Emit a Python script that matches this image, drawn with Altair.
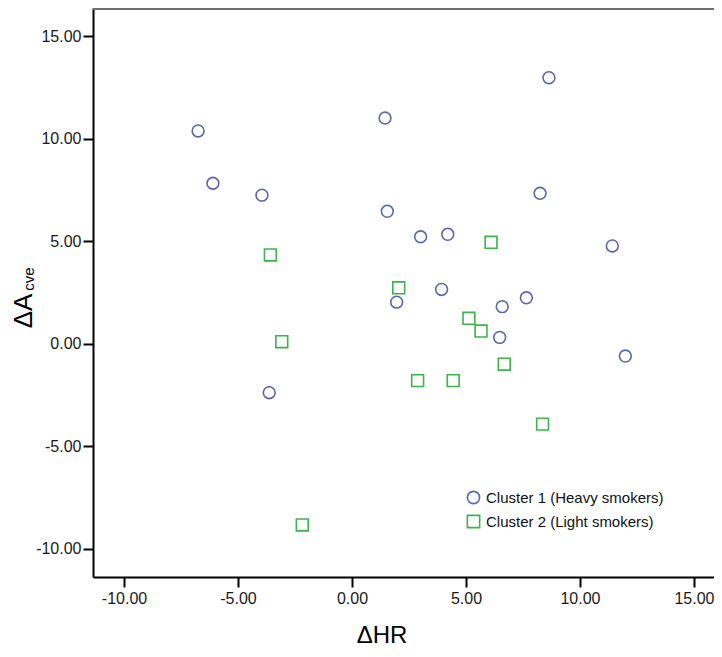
import altair as alt
import pandas as pd

# Cluster 1 (Heavy smokers)
c1_x = [-6.75, -6.10, -3.95, 1.45, 8.64, 1.55, 3.01, 4.20, 8.25, 11.42, 3.93, 1.96, 6.59, 7.65, 6.48, 11.99, -3.63]
c1_y = [10.37, 7.82, 7.24, 11.00, 12.97, 6.45, 5.21, 5.33, 7.33, 4.76, 2.64, 2.02, 1.80, 2.23, 0.30, -0.61, -2.40]
# Cluster 2 (Light smokers)
c2_x = [-3.58, 6.10, 2.05, 5.13, 5.66, -3.08, 2.88, 4.44, 6.68, 8.36, -2.18]
c2_y = [4.32, 4.94, 2.72, 1.23, 0.61, 0.09, -1.81, -1.81, -1.01, -3.93, -8.85]

clusters = ["Cluster 1 (Heavy smokers)", "Cluster 2 (Light smokers)"]
tick_vals = [-10, -5, 0, 5, 10, 15]

df = pd.DataFrame({
    "hr": c1_x + c2_x,
    "acve": c1_y + c2_y,
    "cluster": [clusters[0]] * len(c1_x) + [clusters[1]] * len(c2_x),
})

W, H = 621, 569
FONT = "Liberation Sans"
LBL = "replace(format(datum.value, '.2f'), '\u2212', '-')"

points = alt.Chart(df).mark_point(filled=False, size=140, strokeWidth=1.6, opacity=1).encode(
    x=alt.X("hr:Q", scale=alt.Scale(domain=[-11.36, 15.88], nice=False, zero=False),
            axis=alt.Axis(values=tick_vals, labelExpr=LBL, title=None)),
    y=alt.Y("acve:Q", scale=alt.Scale(domain=[-11.39, 16.37], nice=False, zero=False),
            axis=alt.Axis(values=tick_vals, labelExpr=LBL, title=None)),
    color=alt.Color("cluster:N", scale=alt.Scale(domain=clusters, range=["#5a66b0", "#3cb44b"]),
                    legend=alt.Legend(title=None, orient="none", legendX=373, legendY=482,
                                      symbolSize=150, symbolStrokeWidth=1.6, labelFontSize=15,
                                      labelFont=FONT, labelColor="#111", labelOffset=5,
                                      labelLimit=0, rowPadding=5, padding=0)),
    shape=alt.Shape("cluster:N", scale=alt.Scale(domain=clusters, range=["circle", "square"]),
                    legend=None),
)

top_border = alt.Chart(df).mark_rule(color="#6e6e6e", strokeWidth=2.5).encode(
    x=alt.value(0), x2=alt.value(W), y=alt.value(0)
)

x_title = alt.Chart(pd.DataFrame({"t": ["ΔHR"]})).mark_text(
    font=FONT, fontSize=24, color="#000", baseline="alphabetic", align="center").encode(
    text="t:N", x=alt.value(382 - 93), y=alt.value(643 - 8)
)
y_title_main = alt.Chart(pd.DataFrame({"t": ["ΔA"]})).mark_text(
    font=FONT, fontSize=26, color="#000", angle=270, baseline="alphabetic", align="center").encode(
    text="t:N", x=alt.value(32 - 93), y=alt.value(311 - 8)
)
y_title_sub = alt.Chart(pd.DataFrame({"t": ["cve"]})).mark_text(
    font=FONT, fontSize=15, color="#000", angle=270, baseline="alphabetic", align="center").encode(
    text="t:N", x=alt.value(34 - 93), y=alt.value(279 - 8)
)

chart = alt.layer(points, top_border, x_title, y_title_main, y_title_sub).properties(
    width=W, height=H,
    autosize=alt.AutoSizeParams(type="none"),
    padding={"left": 85, "top": 0, "right": 0, "bottom": 72},
    background="white",
).configure_view(stroke=None).configure_axis(
    grid=False, domainColor="#000", domainWidth=2, tickColor="#000", tickWidth=2, tickSize=10,
    labelFont=FONT, labelFontSize=16, labelColor="#1a1a1a",
).configure_axisX(labelPadding=3).configure_axisY(labelPadding=2)

chart.save("out.html", embed_options={"renderer": "svg", "actions": False})
